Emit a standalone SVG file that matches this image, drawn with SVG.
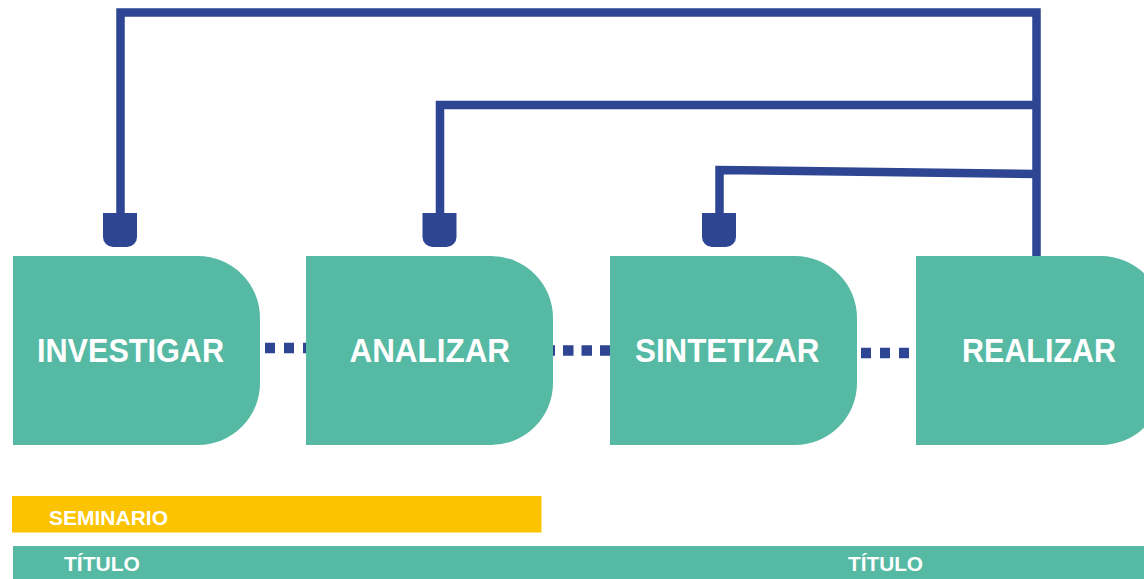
<svg xmlns="http://www.w3.org/2000/svg" width="1144" height="579" viewBox="0 0 1144 579">
<style>
.node{fill:#55B9A4}
.lbl{font-family:"Liberation Sans",Arial,sans-serif;font-weight:bold;fill:#FFFFFF;font-size:33px}
.small{font-family:"Liberation Sans",Arial,sans-serif;font-weight:bold;fill:#FFFFFF;font-size:21px}
.wire{fill:none;stroke:#2E4594;stroke-width:8.5;stroke-linejoin:miter}
.dots{stroke:#2E4594;stroke-width:10.5}
.cap{fill:#2E4594}
</style>
<rect width="1144" height="579" fill="#FFFFFF"/>
<g id="connectors">
<path class="wire" d="M120.5,214 V12.5 H1036.5 V257"/>
<path class="wire" d="M440,214 V105 H1036.5"/>
<path class="wire" d="M719.5,214 V170 L1036.5,174"/>
<path class="cap" d="M103,213 H137 V237 A10 10 0 0 1 127,247 H113 A10 10 0 0 1 103,237 Z"/>
<path class="cap" d="M422.5,213 H456.5 V237 A10 10 0 0 1 446.5,247 H432.5 A10 10 0 0 1 422.5,237 Z"/>
<path class="cap" d="M702,213 H736 V237 A10 10 0 0 1 726,247 H712 A10 10 0 0 1 702,237 Z"/>
<line class="dots" x1="265" y1="348" x2="306" y2="348" stroke-dasharray="10 9"/>
<line class="dots" x1="544.5" y1="350.5" x2="610" y2="350.5" stroke-dasharray="10.5 8"/>
<line class="dots" x1="861" y1="353" x2="909.5" y2="353" stroke-dasharray="10 9"/>
</g>
<g id="investigar">
<path class="node" d="M13,256 H198 A62 62 0 0 1 260,318 V383 A62 62 0 0 1 198,445 H13 Z"/>
<text class="lbl" x="37" y="362" textLength="187" lengthAdjust="spacingAndGlyphs">INVESTIGAR</text>
</g>
<g id="analizar">
<path class="node" d="M306,256 H491 A62 62 0 0 1 553,318 V383 A62 62 0 0 1 491,445 H306 Z"/>
<text class="lbl" x="349.5" y="362" textLength="160.5" lengthAdjust="spacingAndGlyphs">ANALIZAR</text>
</g>
<g id="sintetizar">
<path class="node" d="M610,256 H795 A62 62 0 0 1 857,318 V383 A62 62 0 0 1 795,445 H610 Z"/>
<text class="lbl" x="635" y="362" textLength="184.5" lengthAdjust="spacingAndGlyphs">SINTETIZAR</text>
</g>
<g id="realizar">
<path class="node" d="M916,256 H1101 A62 62 0 0 1 1163,318 V383 A62 62 0 0 1 1101,445 H916 Z"/>
<text class="lbl" x="962" y="362" textLength="154" lengthAdjust="spacingAndGlyphs">REALIZAR</text>
</g>
<g id="seminario">
<rect x="12" y="496" width="529.5" height="36.5" fill="#FCC300"/>
<text class="small" x="49" y="525" textLength="119" lengthAdjust="spacingAndGlyphs">SEMINARIO</text>
</g>
<g id="titulo">
<rect x="13" y="546" width="1131" height="33" fill="#55B9A4"/>
<text class="small" x="64" y="571" textLength="76" lengthAdjust="spacingAndGlyphs">TÍTULO</text>
<text class="small" x="848" y="571" textLength="75" lengthAdjust="spacingAndGlyphs">TÍTULO</text>
</g>
</svg>
